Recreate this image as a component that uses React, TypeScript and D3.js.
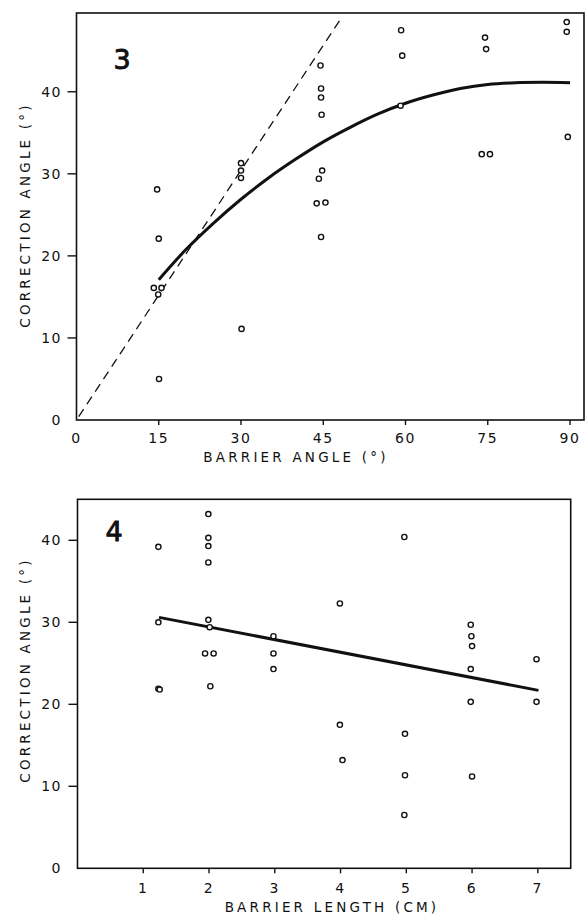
import React from "react";
import * as d3 from "d3";

// ---------- Panel 3 data ----------
const angleX = [14.7, 15.0, 14.1, 15.5, 14.9, 15.05, 30, 30, 30, 30.1, 44.5, 44.6, 44.6, 44.7, 44.8, 44.2, 43.8, 45.4, 44.6, 59.2, 59.4, 59.1, 74.5, 74.7, 73.9, 75.4, 89.4, 89.4, 89.6];
const angleY = [28.1, 22.1, 16.1, 16.1, 15.3, 5.0, 31.3, 30.4, 29.5, 11.1, 43.2, 40.4, 39.3, 37.2, 30.4, 29.4, 26.4, 26.5, 22.3, 47.5, 44.4, 38.3, 46.6, 45.2, 32.4, 32.4, 48.5, 47.3, 34.5];
const angleFitX = [15, 20, 25, 30, 35, 40, 45, 50, 55, 60, 65, 70, 75, 80, 85, 90];
const angleFitY = [17.1, 20.8, 24.0, 26.9, 29.5, 31.8, 33.9, 35.7, 37.3, 38.6, 39.6, 40.4, 40.9, 41.1, 41.15, 41.1];
const identityX = [0.4, 48.3];
const identityY = [0.4, 49.0];
const angleTicksX = [0, 15, 30, 45, 60, 75, 90];
const angleTicksY = [0, 10, 20, 30, 40];

// ---------- Panel 4 data ----------
const lenX = [1.23, 1.23, 1.23, 1.25, 1.99, 1.99, 1.99, 1.99, 1.99, 2.01, 1.94, 2.07, 2.02, 2.98, 2.98, 2.98, 3.99, 3.99, 4.03, 4.97, 4.98, 4.98, 4.97, 5.98, 5.99, 6.0, 5.98, 5.98, 6.0, 6.98, 6.98];
const lenY = [39.2, 30.0, 21.9, 21.8, 43.2, 40.3, 39.3, 37.3, 30.3, 29.4, 26.2, 26.2, 22.2, 28.3, 26.2, 24.3, 32.3, 17.5, 13.2, 40.4, 16.4, 11.35, 6.5, 29.7, 28.3, 27.1, 24.3, 20.3, 11.2, 25.5, 20.3];
const lenFitX = [1.24, 7.01];
const lenFitY = [30.6, 21.7];
const lenTicksX = [1, 2, 3, 4, 5, 6, 7];
const lenTicksY = [0, 10, 20, 30, 40];

const FONT = "'DejaVu Sans', 'Liberation Sans', sans-serif";

function Panel(props: any) {
  const { x, y, px, py, fx, fy, ticksX, ticksY, label, xTitle, yTitle, xTitleX, xTitleY, yTitleX, yTitleY, labelX, labelY, dashed, curve, xTickLabelY } = props;
  const [x0, x1] = x.range();
  const [y0, y1] = y.range();
  const line = d3
    .line<number>()
    .x((_, i) => x(fx[i]))
    .y((_, i) => y(fy[i]))
    .curve(curve ? d3.curveCatmullRom.alpha(0.5) : d3.curveLinear);
  const dLine = dashed
    ? d3
        .line<number>()
        .x((_, i) => x(dashed[0][i]))
        .y((_, i) => y(dashed[1][i]))(dashed[0])
    : null;
  return (
    <g>
      <rect x={x0} y={y1} width={x1 - x0} height={y0 - y1} fill="none" stroke="#111" strokeWidth={1.6} />
      {ticksX.map((t: number) => (
        <g key={"x" + t}>
          {t !== 0 && <line x1={x(t)} x2={x(t)} y1={y0} y2={y0 + 5} stroke="#111" strokeWidth={1.4} />}
          <text x={x(t)} y={xTickLabelY} textAnchor="middle" fontFamily={FONT} fontSize={14} letterSpacing={1.5} fill="#111">
            {t}
          </text>
        </g>
      ))}
      {ticksY.map((t: number) => (
        <g key={"y" + t}>
          {t !== 0 && <line x1={x0 - 9} x2={x0} y1={y(t)} y2={y(t)} stroke="#111" strokeWidth={1.4} />}
          <text x={62} y={y(t) + 5} textAnchor="end" fontFamily={FONT} fontSize={14} letterSpacing={1.5} fill="#111">
            {t}
          </text>
        </g>
      ))}
      {dLine && <path d={dLine} fill="none" stroke="#111" strokeWidth={1.3} strokeDasharray="9,6" />}
      <path d={line(fx) as string} fill="none" stroke="#111" strokeWidth={3} strokeLinecap="butt" />
      {px.map((v: number, i: number) => (
        <circle key={i} cx={x(v)} cy={y(py[i])} r={2.6} fill="white" stroke="#111" strokeWidth={1.4} />
      ))}
      <text x={labelX} y={labelY} textAnchor="middle" fontFamily={FONT} fontSize={27} stroke="#111" strokeWidth={0.9} fill="#111">
        {label}
      </text>
      <text x={xTitleX} y={xTitleY} textAnchor="middle" fontFamily={FONT} fontSize={13.5} letterSpacing={3.2} fill="#111">
        {xTitle}
      </text>
      <text
        transform={`translate(${yTitleX},${yTitleY}) rotate(-90)`}
        textAnchor="middle"
        fontFamily={FONT}
        fontSize={13.5}
        letterSpacing={3.2}
        fill="#111"
      >
        {yTitle}
      </text>
    </g>
  );
}

export default function App() {
  const xA = d3.scaleLinear().domain([0, 92.55]).range([76.5, 584]);
  const yA = d3.scaleLinear().domain([0, 49.6]).range([420, 13]);
  const xL = d3.scaleLinear().domain([0, 7.5]).range([77.5, 570.7]);
  const yL = d3.scaleLinear().domain([0, 45]).range([868.3, 499.3]);
  return (
    <svg width={587} height={922} style={{ position: "absolute", left: 0, top: 0, background: "white" }}>
      <rect width={587} height={922} fill="white" />
      <Panel
        x={xA}
        y={yA}
        px={angleX}
        py={angleY}
        fx={angleFitX}
        fy={angleFitY}
        ticksX={angleTicksX}
        ticksY={angleTicksY}
        label="3"
        labelX={122}
        labelY={69}
        xTitle="BARRIER ANGLE (°)"
        xTitleX={296}
        xTitleY={462}
        yTitle="CORRECTION ANGLE (°)"
        yTitleX={30}
        yTitleY={215}
        dashed={[identityX, identityY]}
        curve={true}
        xTickLabelY={443}
      />
      <Panel
        x={xL}
        y={yL}
        px={lenX}
        py={lenY}
        fx={lenFitX}
        fy={lenFitY}
        ticksX={lenTicksX}
        ticksY={lenTicksY}
        label="4"
        labelX={114}
        labelY={541}
        xTitle="BARRIER LENGTH (CM)"
        xTitleX={332}
        xTitleY={912}
        yTitle="CORRECTION ANGLE (°)"
        yTitleX={30}
        yTitleY={670}
        dashed={null}
        curve={false}
        xTickLabelY={893}
      />
    </svg>
  );
}
